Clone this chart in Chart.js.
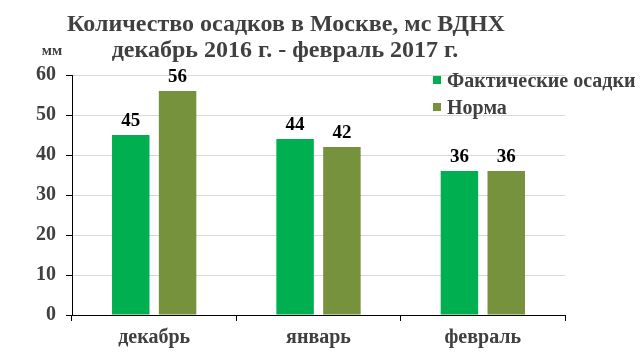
<!DOCTYPE html>
<html>
<head>
<meta charset="utf-8">
<script src="https://cdn.jsdelivr.net/npm/chart.js@4"></script>
<style>
  html, body { margin: 0; padding: 0; background: #fff; }
  #wrap { width: 640px; height: 355px; }
</style>
</head>
<body>
<div id="wrap"><canvas id="rainChart" width="640" height="355"></canvas></div>
<script>
const months = ['декабрь', 'январь', 'февраль'];
const actualRain = [45, 44, 36];
const normRain = [56, 42, 36];
const seriesNames = ['Фактические осадки', 'Норма'];
const titleLines = ['Количество осадков в Москве, мс ВДНХ', 'декабрь 2016 г. - февраль 2017 г.'];
const unitLabel = 'мм';

const serif = "'Liberation Serif', 'DejaVu Serif', serif";
const textGray = '#404040';

// title, unit label and legend drawn on the canvas
const decorPlugin = {
    id: 'decor',
    afterDraw(chart) {
        const ctx = chart.ctx;
        ctx.save();
        ctx.fillStyle = textGray;
        ctx.textAlign = 'center';
        ctx.textBaseline = 'alphabetic';
        ctx.font = 'bold 24px ' + serif;
        ctx.fillText(titleLines[0], 286, 31);
        ctx.fillText(titleLines[1], 285, 57);

        ctx.font = 'bold 15px ' + serif;
        ctx.fillText(unitLabel, 52, 55);

        // legend
        ctx.textAlign = 'left';
        ctx.textBaseline = 'alphabetic';
        ctx.font = 'bold 20px ' + serif;
        chart.data.datasets.forEach((ds, i) => {
            const y = 80 + i * 27;
            ctx.fillStyle = ds.backgroundColor;
            ctx.fillRect(433, y - 4, 8, 8);
            ctx.fillStyle = textGray;
            ctx.fillText(ds.label, 447, y + 7);
        });
        ctx.restore();
    }
};

// value labels above bars
const valuePlugin = {
    id: 'values',
    afterDatasetsDraw(chart) {
        const ctx = chart.ctx;
        ctx.save();
        ctx.fillStyle = '#000';
        ctx.font = 'bold 19px ' + serif;
        ctx.textAlign = 'center';
        ctx.textBaseline = 'bottom';
        chart.data.datasets.forEach((ds, i) => {
            chart.getDatasetMeta(i).data.forEach((bar, j) => {
                ctx.fillText(ds.data[j], bar.x, bar.y - 4);
            });
        });
        ctx.restore();
    }
};

const ctx = document.getElementById('rainChart').getContext('2d');
new Chart(ctx, {
    type: 'bar',
    data: {
        labels: months,
        datasets: [{
            label: seriesNames[0],
            data: actualRain,
            backgroundColor: '#00B050',
            barPercentage: 0.8,
            categoryPercentage: 0.57
        }, {
            label: seriesNames[1],
            data: normRain,
            backgroundColor: '#76923C',
            barPercentage: 0.8,
            categoryPercentage: 0.57
        }]
    },
    options: {
        responsive: false,
        animation: false,
        layout: { padding: { left: 0, right: 75, top: 75, bottom: 0 } },
        plugins: {
            legend: { display: false },
            title: { display: false },
            tooltip: { enabled: false }
        },
        scales: {
            x: {
                offset: true,
                grid: {
                    offset: true,
                    drawOnChartArea: false,
                    drawTicks: true,
                    tickLength: 6,
                    tickColor: '#000'
                },
                border: { color: '#000', width: 1 },
                ticks: {
                    color: textGray,
                    font: { family: serif, size: 20, weight: 'bold' },
                    padding: 5
                },
                afterFit(scale) { scale.height = 40; }
            },
            y: {
                min: 0,
                max: 60,
                ticks: {
                    stepSize: 10,
                    color: textGray,
                    font: { family: serif, size: 20, weight: 'bold' },
                    padding: 10
                },
                grid: {
                    color: '#d9d9d9',
                    tickColor: '#000',
                    tickLength: 6
                },
                border: { color: '#000', width: 1 },
                afterFit(scale) { scale.width = 72; }
            }
        }
    },
    plugins: [valuePlugin, decorPlugin]
});
</script>
</body>
</html>
